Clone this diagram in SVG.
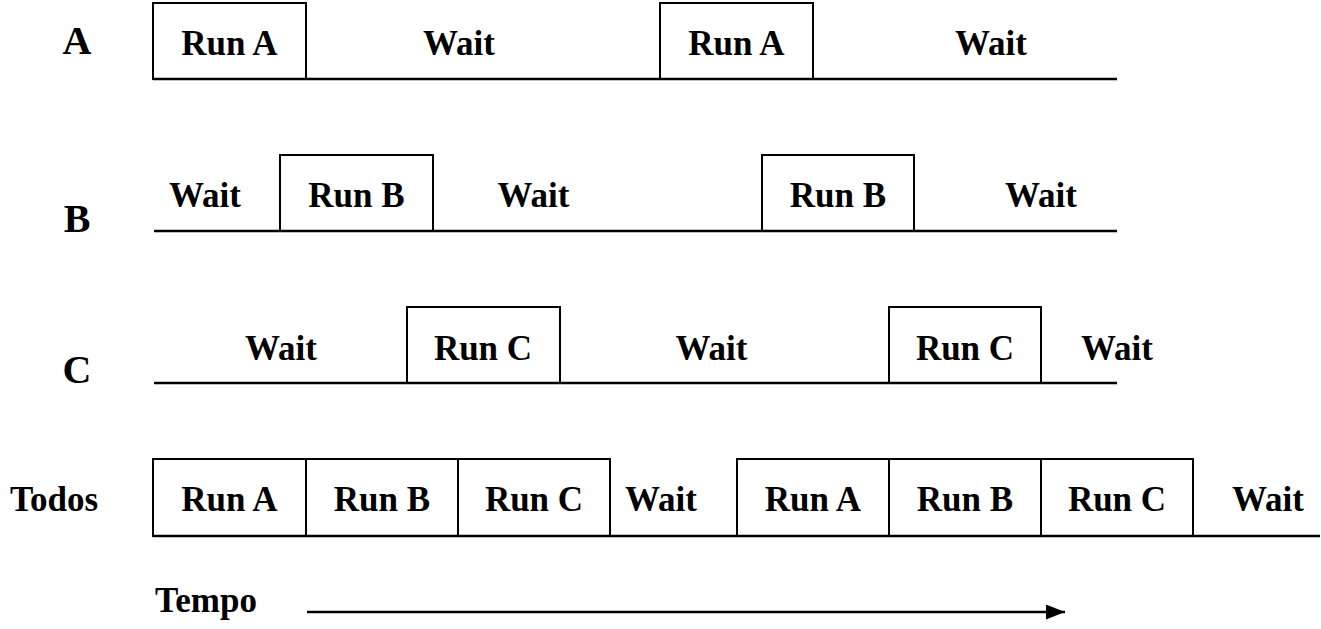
<svg xmlns="http://www.w3.org/2000/svg" width="1321" height="629" viewBox="0 0 1321 629">
  <style>
    .t { font-family: "Liberation Serif", "Times New Roman", serif; font-weight: bold; font-size: 35px; fill: #000; text-anchor: middle; }
    .lbl { font-family: "Liberation Serif", "Times New Roman", serif; font-weight: bold; font-size: 40px; fill: #000; text-anchor: middle; }
    .box { fill: none; stroke: #000; stroke-width: 2; }
    .ln { fill: none; stroke: #000; stroke-width: 2.5; }
  </style>
  <defs>
    <marker id="arrow" markerWidth="19" markerHeight="15" refX="19" refY="7.5" orient="auto" markerUnits="userSpaceOnUse">
      <polygon points="0,0 19,7.5 0,15" fill="#000"/>
    </marker>
  </defs>

  <g id="rowA">
    <text class="lbl" x="77" y="54">A</text>
    <line class="ln" x1="153" y1="79" x2="1117" y2="79"/>
    <rect class="box" x="153" y="3" width="153" height="76"/>
    <rect class="box" x="660" y="3" width="153" height="76"/>
    <text class="t" x="229.5" y="55">Run A</text>
    <text class="t" x="459" y="55">Wait</text>
    <text class="t" x="736.5" y="55">Run A</text>
    <text class="t" x="991" y="55">Wait</text>
  </g>

  <g id="rowB">
    <text class="lbl" x="77" y="232">B</text>
    <line class="ln" x1="154" y1="231" x2="1117" y2="231"/>
    <rect class="box" x="280" y="155" width="153" height="76"/>
    <rect class="box" x="762" y="155" width="152" height="76"/>
    <text class="t" x="205" y="207">Wait</text>
    <text class="t" x="356.5" y="207">Run B</text>
    <text class="t" x="533.5" y="207">Wait</text>
    <text class="t" x="838" y="207">Run B</text>
    <text class="t" x="1041" y="207">Wait</text>
  </g>

  <g id="rowC">
    <text class="lbl" x="77" y="383">C</text>
    <line class="ln" x1="154" y1="383" x2="1117" y2="383"/>
    <rect class="box" x="407" y="307" width="153" height="76"/>
    <rect class="box" x="889" y="307" width="152" height="76"/>
    <text class="t" x="281" y="360">Wait</text>
    <text class="t" x="483" y="360">Run C</text>
    <text class="t" x="711.5" y="360">Wait</text>
    <text class="t" x="965" y="360">Run C</text>
    <text class="t" x="1117" y="360">Wait</text>
  </g>

  <g id="rowTodos">
    <text class="t" x="54" y="511">Todos</text>
    <line class="ln" x1="153" y1="536" x2="1320" y2="536"/>
    <rect class="box" x="153" y="459" width="153" height="77"/>
    <rect class="box" x="306" y="459" width="152" height="77"/>
    <rect class="box" x="458" y="459" width="152" height="77"/>
    <rect class="box" x="737" y="459" width="152" height="77"/>
    <rect class="box" x="889" y="459" width="152" height="77"/>
    <rect class="box" x="1041" y="459" width="152" height="77"/>
    <text class="t" x="229.5" y="511">Run A</text>
    <text class="t" x="382" y="511">Run B</text>
    <text class="t" x="534" y="511">Run C</text>
    <text class="t" x="661" y="511">Wait</text>
    <text class="t" x="813" y="511">Run A</text>
    <text class="t" x="965" y="511">Run B</text>
    <text class="t" x="1117" y="511">Run C</text>
    <text class="t" x="1268" y="511">Wait</text>
  </g>

  <g id="tempo">
    <text class="t" x="206" y="612">Tempo</text>
  </g>

  <g id="connectors">
    <line class="ln" x1="307" y1="612" x2="1065" y2="612" marker-end="url(#arrow)"/>
  </g>
</svg>
